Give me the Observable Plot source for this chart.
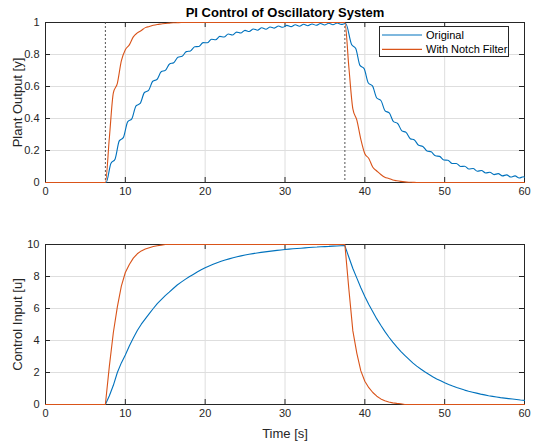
<!DOCTYPE html>
<html><head><meta charset="utf-8">
<script src="https://cdn.jsdelivr.net/npm/d3@7"></script>
<script src="https://cdn.jsdelivr.net/npm/@observablehq/plot@0.6"></script>
<style>
body{margin:0;background:#fff;}
#chart{width:541px;height:447px;position:relative;font-family:"Liberation Sans",Arial,sans-serif;}
#chart svg{display:block;}
#legend{position:absolute;left:379px;top:26px;width:130px;height:31px;border:1px solid #262626;background:#fff;box-sizing:border-box;}
</style></head><body><div id="chart"></div>
<script>
// shared time base (s) for the notch-filter output and both control inputs
const time = [0, 7.5, 8, 8.5, 9, 9.5, 10, 10.5, 11, 11.5, 12, 12.5, 13, 13.5, 14, 14.5, 15, 15.5, 16, 16.5,
  17, 17.5, 18, 18.5, 19, 19.5, 20, 20.5, 21, 21.5, 22, 22.5, 23, 23.5, 24, 24.5, 25, 25.5, 26, 26.5,
  27, 27.5, 28, 28.5, 29, 29.5, 30, 30.5, 31, 31.5, 32, 32.5, 33, 33.5, 34, 34.5, 35, 35.5, 36, 36.5,
  37, 37.5, 38, 38.5, 39, 39.5, 40, 40.5, 41, 41.5, 42, 42.5, 43, 43.5, 44, 44.5, 45, 45.5, 46, 46.5,
  47, 47.5, 48, 48.5, 49, 49.5, 50, 50.5, 51, 51.5, 52, 52.5, 53, 53.5, 54, 54.5, 55, 55.5, 56, 56.5,
  57, 57.5, 58, 58.5, 59, 59.5, 60];

// plant output, original controller (rippled): its own time points
const outputOriginalTime = [0, 7.6,
  8.19, 8.71, 9.24, 9.76, 10.29, 10.81, 11.34, 11.86, 12.39, 12.91, 13.44, 13.96, 14.49, 15.01, 15.54, 16.06,
  16.59, 17.11, 17.64, 18.16, 18.69, 19.21, 19.74, 20.26, 20.79, 21.31, 21.84, 22.36, 22.89, 23.41, 23.94, 24.46,
  24.99, 25.51, 26.04, 26.56, 27.09, 27.61, 28.14, 28.66, 29.19, 29.71, 30.24, 30.76, 31.29, 31.81, 32.34, 32.86,
  33.39, 33.91, 34.44, 34.96, 35.49, 36.01, 36.54, 37.06, 37.6,
  38.34, 38.86, 39.39, 39.91, 40.44, 40.96, 41.49, 42.01, 42.54, 43.06, 43.59, 44.11, 44.64, 45.16, 45.69, 46.21,
  46.74, 47.26, 47.79, 48.31, 48.84, 49.36, 49.89, 50.41, 50.94, 51.46, 51.99, 52.51, 53.04, 53.56, 54.09, 54.61,
  55.14, 55.66, 56.19, 56.71, 57.24, 57.76, 58.29, 58.81, 59.34, 59.86, 60];
const outputOriginal = [0, 0,
  0.119, 0.146, 0.26, 0.282, 0.379, 0.398, 0.479, 0.494, 0.5625, 0.576, 0.633, 0.644, 0.692, 0.701, 0.741, 0.749,
  0.783, 0.789, 0.818, 0.822, 0.848, 0.850, 0.874, 0.873, 0.895, 0.892, 0.913, 0.909, 0.928, 0.922, 0.940, 0.934,
  0.951, 0.9435, 0.9597, 0.9516, 0.967, 0.958, 0.972, 0.965, 0.978, 0.970, 0.982, 0.974, 0.9857, 0.977, 0.989, 0.980,
  0.991, 0.9825, 0.9936, 0.9845, 0.9954, 0.986, 0.997, 0.988, 0.994,
  0.863, 0.838, 0.732, 0.7115, 0.622, 0.604, 0.528, 0.5126, 0.448, 0.435, 0.380, 0.369, 0.3226, 0.3134, 0.274, 0.266,
  0.2324, 0.2257, 0.1972, 0.1917, 0.1668, 0.1634, 0.1409, 0.1394, 0.1188, 0.1191, 0.1001, 0.1018, 0.0842, 0.0872, 0.0707, 0.0748,
  0.0592, 0.0642, 0.0495, 0.0552, 0.0413, 0.0477, 0.0342, 0.0412, 0.0283, 0.0357, 0.033];

const outputNotch = [0, 0, 0.28, 0.56, 0.62, 0.76, 0.83, 0.86, 0.91, 0.935, 0.95, 0.968, 0.975, 0.983, 0.988, 0.991, 0.994, 0.996, 0.998, 0.999,
  1, 1, 1, 1, 1, 1, 1, 1, 1, 1, 1, 1, 1, 1, 1, 1, 1, 1, 1, 1,
  1, 1, 1, 1, 1, 1, 1, 1, 1, 1, 1, 1, 1, 1, 1, 1, 1, 1, 1, 1,
  1, 1, 0.72, 0.46, 0.39, 0.27, 0.18, 0.15, 0.095, 0.072, 0.05, 0.033, 0.025, 0.016, 0.011, 0.007, 0.004, 0.002, 0.001, 0,
  0, 0, 0, 0, 0, 0, 0, 0, 0, 0, 0, 0, 0, 0, 0, 0, 0, 0, 0, 0,
  0, 0, 0, 0, 0, 0, 0];

const inputOriginal = [0, 0, 0.55, 1.2, 2.0, 2.6, 3.1, 3.65, 4.15, 4.62, 5.02, 5.35, 5.68, 6.0, 6.3, 6.55, 6.8, 7.02, 7.25, 7.47,
  7.65, 7.82, 7.98, 8.13, 8.28, 8.42, 8.55, 8.66, 8.76, 8.86, 8.95, 9.03, 9.1, 9.17, 9.23, 9.29, 9.34, 9.39, 9.43, 9.47,
  9.51, 9.54, 9.57, 9.6, 9.63, 9.66, 9.69, 9.71, 9.73, 9.75, 9.77, 9.79, 9.81, 9.83, 9.84, 9.86, 9.87, 9.88, 9.9, 9.91,
  9.92, 9.93, 9.2, 8.5, 7.9, 7.3, 6.75, 6.25, 5.8, 5.35, 4.95, 4.57, 4.22, 3.9, 3.6, 3.32, 3.07, 2.83, 2.6, 2.4,
  2.22, 2.05, 1.89, 1.74, 1.6, 1.48, 1.36, 1.25, 1.15, 1.06, 0.98, 0.9, 0.83, 0.77, 0.71, 0.65, 0.6, 0.55, 0.51, 0.47,
  0.43, 0.4, 0.37, 0.34, 0.31, 0.28, 0.26];

const inputNotch = [0, 0, 2.4, 4.5, 6.1, 7.4, 8.25, 8.75, 9.15, 9.42, 9.6, 9.72, 9.8, 9.87, 9.92, 9.96, 10, 10, 10, 10,
  10, 10, 10, 10, 10, 10, 10, 10, 10, 10, 10, 10, 10, 10, 10, 10, 10, 10, 10, 10,
  10, 10, 10, 10, 10, 10, 10, 10, 10, 10, 10, 10, 10, 10, 10, 10, 10, 10, 10, 10,
  10, 10, 7.2, 4.6, 3.2, 2.1, 1.45, 1.05, 0.75, 0.52, 0.35, 0.24, 0.16, 0.1, 0.07, 0.05, 0, 0, 0, 0,
  0, 0, 0, 0, 0, 0, 0, 0, 0, 0, 0, 0, 0, 0, 0, 0, 0, 0, 0, 0,
  0, 0, 0, 0, 0, 0, 0];

const xTicks = [0, 10, 20, 30, 40, 50, 60];
const xTickLabels = ["0", "10", "20", "30", "40", "50", "60"];
const yTicksTop = [0, 0.2, 0.4, 0.6, 0.8, 1];
const yTickLabelsTop = ["0", "0.2", "0.4", "0.6", "0.8", "1"];
const yTicksBottom = [0, 2, 4, 6, 8, 10];
const yTickLabelsBottom = ["0", "2", "4", "6", "8", "10"];
const stepTimes = [7.5, 37.5];
const seriesNames = ["Original", "With Notch Filter"];
const seriesColors = ["#0072BD", "#D95319"];
const titleText = "PI Control of Oscillatory System";
const yLabelTop = "Plant Output [y]";
const yLabelBottom = "Control Input [u]";
const xLabelText = "Time [s]";

const W = 541, ML = 45, MR = 17;
const ink = "#262626", gridColor = "#dedede";
const font = "Liberation Sans, Arial, sans-serif";

function panel({height, marginTop, marginBottom, yDomain, yTicks, yLabels, rowsA, rowsB, curve, extra}) {
  const plotH = height - marginTop - marginBottom;
  const plotW = W - ML - MR;
  return Plot.plot({
    width: W, height, marginLeft: ML, marginRight: MR, marginTop, marginBottom,
    style: {fontFamily: font, fontSize: "11px", color: ink, background: "#fff"},
    x: {domain: [0, 60], ticks: xTicks, tickFormat: d => xTickLabels[xTicks.indexOf(d)], tickSize: 0, tickPadding: 5, label: null},
    y: {domain: yDomain, ticks: yTicks, tickFormat: d => yLabels[yTicks.indexOf(d)], tickSize: 0, tickPadding: 6, label: null},
    marks: [
      Plot.ruleX(xTicks, {x: d => d, stroke: gridColor, strokeWidth: 1}),
      Plot.ruleY(yTicks, {y: d => d, stroke: gridColor, strokeWidth: 1}),
      Plot.frame({stroke: ink, strokeWidth: 1}),
      Plot.tickX(xTicks, {x: d => d, stroke: ink, insetTop: plotH - 5}),
      Plot.tickX(xTicks, {x: d => d, stroke: ink, insetBottom: plotH - 5}),
      Plot.tickY(yTicks, {y: d => d, stroke: ink, insetRight: plotW - 5}),
      Plot.tickY(yTicks, {y: d => d, stroke: ink, insetLeft: plotW - 5}),
      ...(extra.before || []),
      Plot.line(rowsA, {x: "t", y: "v", stroke: seriesColors[0], strokeWidth: 1.1, curve}),
      Plot.line(rowsB, {x: "t", y: "v", stroke: seriesColors[1], strokeWidth: 1.1, curve}),
      ...(extra.after || [])
    ]
  });
}

const topChart = panel({
  height: 220, marginTop: 22, marginBottom: 38,
  yDomain: [0, 1], yTicks: yTicksTop, yLabels: yTickLabelsTop,
  rowsA: outputOriginalTime.map((t, i) => ({t, v: outputOriginal[i]})),
  rowsB: time.map((t, i) => ({t, v: outputNotch[i]})),
  curve: "monotone-x",
  extra: {
    before: [Plot.ruleX(stepTimes, {x: d => d, stroke: "#404040", strokeWidth: 0.9, strokeDasharray: "2,2"})],
    after: [
      Plot.text([titleText], {text: d => d, frameAnchor: "top", lineAnchor: "middle", dy: -10, fontSize: 13, fontWeight: "bold", fill: "#000"}),
      Plot.text([yLabelTop], {text: d => d, frameAnchor: "left", textAnchor: "middle", lineAnchor: "middle", dx: -28, rotate: -90, fontSize: 13, fill: ink})
    ]
  }
});

const bottomChart = panel({
  height: 227, marginTop: 24, marginBottom: 43,
  yDomain: [0, 10], yTicks: yTicksBottom, yLabels: yTickLabelsBottom,
  rowsA: time.map((t, i) => ({t, v: inputOriginal[i]})),
  rowsB: time.map((t, i) => ({t, v: inputNotch[i]})),
  curve: "linear",
  extra: {
    after: [
      Plot.text([yLabelBottom], {text: d => d, frameAnchor: "left", textAnchor: "middle", lineAnchor: "middle", dx: -28, rotate: -90, fontSize: 13, fill: ink}),
      Plot.text([xLabelText], {text: d => d, frameAnchor: "bottom", lineAnchor: "middle", dy: 29, fontSize: 13, fill: ink})
    ]
  }
});

const chart = document.getElementById("chart");
chart.appendChild(topChart);
chart.appendChild(bottomChart);

// legend
const legend = document.createElement("div");
legend.id = "legend";
const ns = "http://www.w3.org/2000/svg";
const lsvg = document.createElementNS(ns, "svg");
lsvg.setAttribute("width", 128); lsvg.setAttribute("height", 29);
seriesNames.forEach((name, i) => {
  const y = 8 + i * 14.4;
  const ln = document.createElementNS(ns, "line");
  ln.setAttribute("x1", 2); ln.setAttribute("x2", 42);
  ln.setAttribute("y1", y); ln.setAttribute("y2", y);
  ln.setAttribute("stroke", seriesColors[i]); ln.setAttribute("stroke-width", 1.1);
  lsvg.appendChild(ln);
  const tx = document.createElementNS(ns, "text");
  tx.setAttribute("x", 46); tx.setAttribute("y", y);
  tx.setAttribute("dy", "0.35em");
  tx.setAttribute("font-size", "11px");
  tx.setAttribute("font-family", font);
  tx.setAttribute("fill", "#000");
  tx.textContent = name;
  lsvg.appendChild(tx);
});
legend.appendChild(lsvg);
chart.appendChild(legend);
</script>
</body></html>
